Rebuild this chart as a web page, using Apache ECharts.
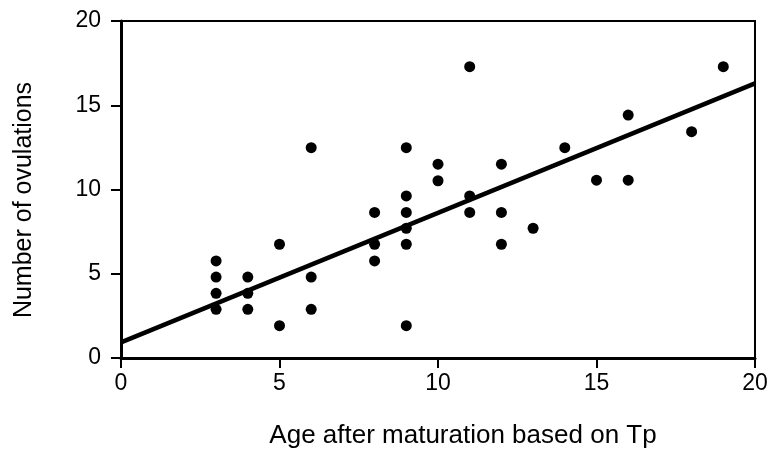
<!DOCTYPE html>
<html>
<head>
<meta charset="utf-8">
<script src="https://cdn.jsdelivr.net/npm/echarts@6/dist/echarts.min.js"></script>
<style>
html,body{margin:0;padding:0;background:#fff;}
#chart{width:779px;height:451px;}
</style>
</head>
<body>
<div id="chart"></div>
<script>
// Data
var ageValues = [3,3,3,3, 4,4,4, 5,5, 6,6,6, 8,8,8, 9,9,9,9,9,9, 10,10, 11,11,11, 12,12,12, 13, 14, 15, 16,16, 18, 19];
var ovulationValues = [5.76,4.8,3.84,2.89, 4.8,3.84,2.89, 6.75,1.92, 12.48,4.8,2.89, 8.64,6.75,5.76, 12.48,9.62,8.64,7.7,6.75,1.92, 11.5,10.52, 17.29,9.62,8.64, 11.5,8.64,6.75, 7.7, 12.48, 10.55, 14.42,10.55, 13.43, 17.29];
var fitX = [0, 20];
var fitY = [0.93, 16.3];
var xTicks = [0, 5, 10, 15, 20];
var yTicks = [0, 5, 10, 15, 20];
var xTitle = 'Age after maturation based on Tp';
var yTitle = 'Number of ovulations';

var scatterData = ageValues.map(function (x, i) { return [x, ovulationValues[i]]; });
var fitData = fitX.map(function (x, i) { return [x, fitY[i]]; });

var FONT = "'Liberation Sans', Arial, sans-serif";
var chart = echarts.init(document.getElementById('chart'), null, {renderer: 'canvas'});
chart.setOption({
  animation: false,
  backgroundColor: '#fff',
  grid: {left: 121, right: 24, top: 21, bottom: 93, show: true, borderColor: '#000', borderWidth: 2, backgroundColor: 'transparent'},
  xAxis: {
    type: 'value', min: xTicks[0], max: xTicks[xTicks.length - 1], interval: 5,
    axisLine: {show: true, onZero: false, lineStyle: {color: '#000', width: 3}},
    axisTick: {show: true, length: 10, lineStyle: {color: '#000', width: 2}},
    axisLabel: {margin: 14, color: '#000', fontSize: 23, fontFamily: FONT},
    splitLine: {show: false}
  },
  yAxis: {
    type: 'value', min: yTicks[0], max: yTicks[yTicks.length - 1], interval: 5,
    axisLine: {show: true, onZero: false, lineStyle: {color: '#000', width: 3}},
    axisTick: {show: true, length: 10, lineStyle: {color: '#000', width: 2}},
    axisLabel: {margin: 20, color: '#000', fontSize: 23, fontFamily: FONT},
    splitLine: {show: false}
  },
  series: [
    {
      type: 'line', data: fitData, showSymbol: false, symbol: 'none',
      lineStyle: {color: '#000', width: 4.5}, z: 3
    },
    {
      type: 'scatter', data: scatterData, symbol: 'circle', symbolSize: 11,
      itemStyle: {color: '#000', opacity: 1}, z: 4
    }
  ],
  graphic: [
    {type: 'text', x: 463, y: 436, style: {text: xTitle, x: 0, y: 0, font: '26px ' + FONT, fill: '#000', textAlign: 'center', textVerticalAlign: 'middle'}},
    {type: 'text', x: 24, y: 200, rotation: Math.PI / 2, style: {text: yTitle, x: 0, y: 0, font: '25px ' + FONT, fill: '#000', textAlign: 'center', textVerticalAlign: 'middle'}}
  ]
});
</script>
</body>
</html>
